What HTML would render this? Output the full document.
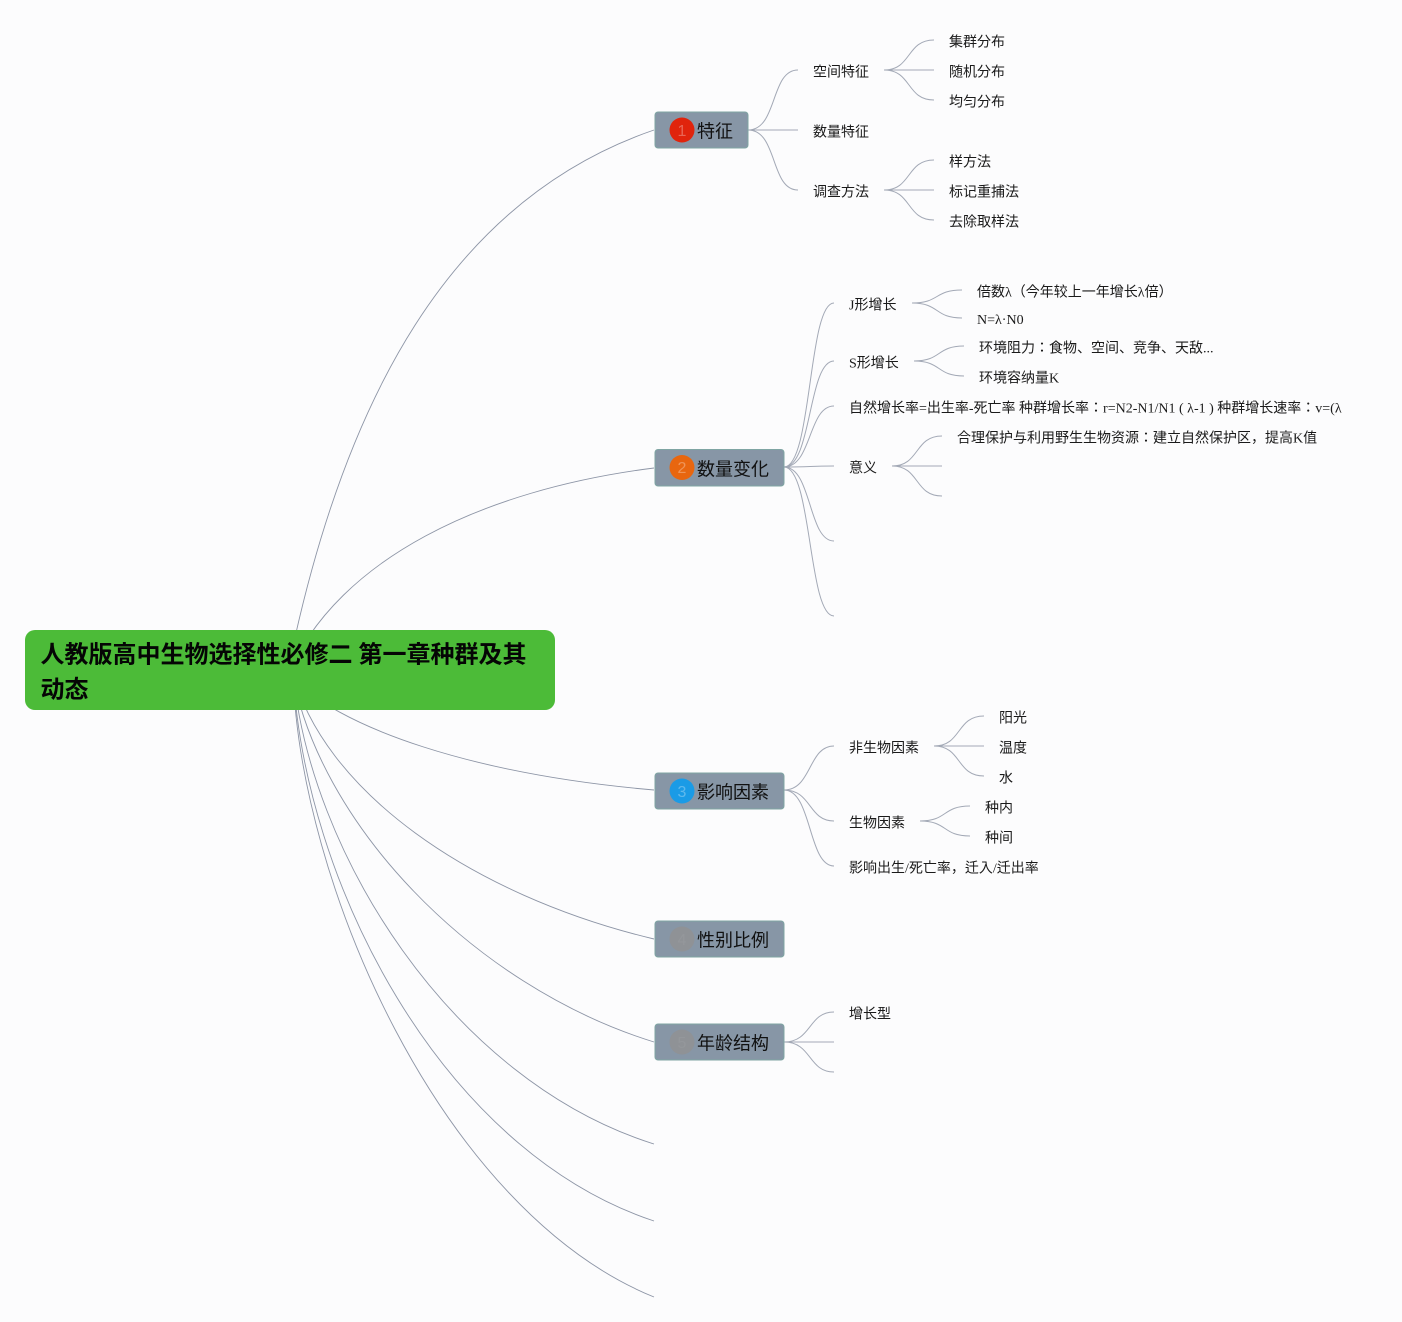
<!DOCTYPE html>
<html>
<head>
<meta charset="utf-8">
<title>人教版高中生物选择性必修二 第一章种群及其动态</title>
<style>
html,body{margin:0;padding:0;background:#fcfcfd;}
svg{display:block;}
text{font-family:"Liberation Serif","Noto Sans CJK JP",serif;fill:#1a1a1a;font-size:14px;}
.edge{fill:none;stroke:#8d95a6;stroke-width:.9;}
.sub{fill:none;stroke:#a3a9b6;stroke-width:1;}
.node{fill:#8796a6;stroke:#7fa5a3;stroke-width:1;}
.nt{font-size:18px;fill:#111;}
.num{font-family:"Liberation Sans",sans-serif;font-size:16px;text-anchor:middle;fill:#ffffff;fill-opacity:.3;}
.numg{font-family:"Liberation Sans",sans-serif;font-size:16px;text-anchor:middle;fill:#ffffff;fill-opacity:.05;}
.root{font-size:24px;font-weight:700;fill:#050505;}
</style>
</head>
<body>
<svg width="1402" height="1322" viewBox="0 0 1402 1322" xmlns="http://www.w3.org/2000/svg">
<rect width="1402" height="1322" fill="#fcfcfd"/>

<!-- root edges -->
<path class="edge" d="M288 670C343 400 450 200 654 130"/>
<path class="edge" d="M290 670C340 560 480 490 654 468"/>
<path class="edge" d="M284 670C336 730 480 775 654 790"/>
<path class="edge" d="M292 670C322 790 470 895 654 939"/>
<path class="edge" d="M292 670C317 820 470 985 654 1042"/>
<path class="edge" d="M293 670C308 850 450 1080 654 1144"/>
<path class="edge" d="M293 670C303 880 440 1150 654 1221"/>
<path class="edge" d="M293 670C298 880 440 1210 654 1297"/>

<!-- 特征 branches -->
<path class="sub" d="M748 130C778 130 770 70 798 70"/>
<path class="sub" d="M748 130H798"/>
<path class="sub" d="M748 130C778 130 770 190 798 190"/>
<path class="sub" d="M884 70C912 70 906 40 934 40"/>
<path class="sub" d="M884 70H934"/>
<path class="sub" d="M884 70C912 70 906 100 934 100"/>
<path class="sub" d="M884 190C912 190 906 160 934 160"/>
<path class="sub" d="M884 190H934"/>
<path class="sub" d="M884 190C912 190 906 220 934 220"/>

<!-- 数量变化 branches -->
<path class="sub" d="M784 467C812 467 808 303 834 303"/>
<path class="sub" d="M784 467C812 467 808 361 834 361"/>
<path class="sub" d="M784 467C812 467 808 406 834 406"/>
<path class="sub" d="M784 467C812 467 808 466 834 466"/>
<path class="sub" d="M784 467C812 467 808 541 834 541"/>
<path class="sub" d="M784 467C812 467 808 616 834 616"/>
<path class="sub" d="M912 303C940 303 934 290 962 290"/>
<path class="sub" d="M912 303C940 303 934 318 962 318"/>
<path class="sub" d="M914 361C942 361 936 346 964 346"/>
<path class="sub" d="M914 361C942 361 936 376 964 376"/>
<path class="sub" d="M892 466C920 466 914 436 942 436"/>
<path class="sub" d="M892 466H942"/>
<path class="sub" d="M892 466C920 466 914 496 942 496"/>

<!-- 影响因素 branches -->
<path class="sub" d="M784 790C812 790 808 746 834 746"/>
<path class="sub" d="M784 790C812 790 808 821 834 821"/>
<path class="sub" d="M784 790C812 790 808 866 834 866"/>
<path class="sub" d="M934 746C962 746 956 716 984 716"/>
<path class="sub" d="M934 746H984"/>
<path class="sub" d="M934 746C962 746 956 776 984 776"/>
<path class="sub" d="M920 821C948 821 942 806 970 806"/>
<path class="sub" d="M920 821C948 821 942 836 970 836"/>

<!-- 年龄结构 branches -->
<path class="sub" d="M784 1042C812 1042 808 1012 834 1012"/>
<path class="sub" d="M784 1042H834"/>
<path class="sub" d="M784 1042C812 1042 808 1072 834 1072"/>

<!-- root node -->
<rect x="25" y="630" width="530" height="80" rx="10" ry="10" fill="#4cbb38"/>
<text class="root" x="40.500" y="662.500">人教版高中生物选择性必修二 第一章种群及其</text>
<text class="root" x="40.500" y="697.500">动态</text>

<!-- level 1 nodes -->
<rect class="node" x="655" y="112" width="93" height="36" rx="3"/>
<circle cx="682" cy="130" r="12.5" fill="#e0240c"/>
<text class="num" x="682" y="136">1</text>
<text class="nt" x="697" y="137.500">特征</text>

<rect class="node" x="655" y="449.500" width="129" height="36.500" rx="3"/>
<circle cx="682" cy="467.500" r="12.5" fill="#e8660f"/>
<text class="num" x="682" y="473">2</text>
<text class="nt" x="697" y="475.500">数量变化</text>

<rect class="node" x="655" y="773" width="129" height="36" rx="3"/>
<circle cx="682" cy="791" r="12.5" fill="#1a9be6"/>
<text class="num" x="682" y="797">3</text>
<text class="nt" x="697" y="798.500">影响因素</text>

<rect class="node" x="655" y="921" width="129" height="36" rx="3"/>
<circle cx="682" cy="939" r="12.5" fill="#8f9296"/>
<text class="numg" x="682" y="945">4</text>
<text class="nt" x="697" y="946.500">性别比例</text>

<rect class="node" x="655" y="1024" width="129" height="36" rx="3"/>
<circle cx="682" cy="1042" r="12.5" fill="#8f9296"/>
<text class="numg" x="682" y="1048">5</text>
<text class="nt" x="697" y="1049.500">年龄结构</text>

<!-- labels: 特征 -->
<text x="813" y="76.500">空间特征</text>
<text x="813" y="136.500">数量特征</text>
<text x="813" y="196.500">调查方法</text>
<text x="949" y="46.500">集群分布</text>
<text x="949" y="76.500">随机分布</text>
<text x="949" y="106.500">均匀分布</text>
<text x="949" y="166.500">样方法</text>
<text x="949" y="196.500">标记重捕法</text>
<text x="949" y="226.500">去除取样法</text>

<!-- labels: 数量变化 -->
<text x="849" y="309.500">J形增长</text>
<text x="849" y="367.500">S形增长</text>
<text x="849" y="412.500">自然增长率=出生率-死亡率 种群增长率：r=N2-N1/N1 ( λ-1 ) 种群增长速率：v=(λ</text>
<text x="849" y="472.500">意义</text>
<text x="977" y="296.500">倍数λ（今年较上一年增长λ倍）</text>
<text x="977" y="324">N=λ·N0</text>
<text x="979" y="352.500">环境阻力：食物、空间、竞争、天敌...</text>
<text x="979" y="382.500">环境容纳量K</text>
<text x="957" y="442.500">合理保护与利用野生生物资源：建立自然保护区，提高K值</text>

<!-- labels: 影响因素 -->
<text x="849" y="752.500">非生物因素</text>
<text x="849" y="827.500">生物因素</text>
<text x="849" y="872.500">影响出生/死亡率，迁入/迁出率</text>
<text x="999" y="722.500">阳光</text>
<text x="999" y="752.500">温度</text>
<text x="999" y="782.500">水</text>
<text x="985" y="812.500">种内</text>
<text x="985" y="842.500">种间</text>

<!-- labels: 年龄结构 -->
<text x="849" y="1018.500">增长型</text>
</svg>
</body>
</html>
